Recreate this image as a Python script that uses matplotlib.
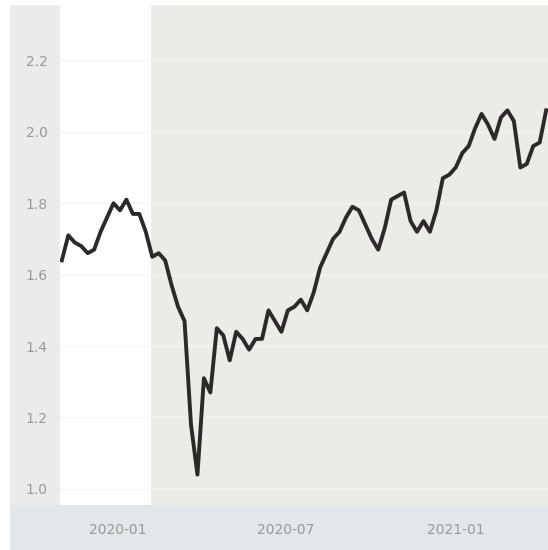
import numpy as np
import pandas as pd
import matplotlib
matplotlib.use("Agg")
import matplotlib.pyplot as plt
import matplotlib.dates as mdates
from matplotlib.patches import Rectangle

# weekly series
start_date = "2019-11-01"
n_weeks = 76
values = [
    1.64, 1.71, 1.69, 1.68, 1.66, 1.67, 1.72, 1.76, 1.80, 1.78,
    1.81, 1.77, 1.77, 1.72, 1.65, 1.66, 1.64, 1.57, 1.51, 1.47,
    1.18, 1.04, 1.31, 1.27, 1.45, 1.43, 1.36, 1.44, 1.42, 1.39,
    1.42, 1.42, 1.50, 1.47, 1.44, 1.50, 1.51, 1.53, 1.50, 1.55,
    1.62, 1.66, 1.70, 1.72, 1.76, 1.79, 1.78, 1.74, 1.70, 1.67,
    1.73, 1.81, 1.82, 1.83, 1.75, 1.72, 1.75, 1.72, 1.78, 1.87,
    1.88, 1.90, 1.94, 1.96, 2.01, 2.05, 2.02, 1.98, 2.04, 2.06,
    2.03, 1.90, 1.91, 1.96, 1.97, 2.06,
]
band_end = "2020-02-05"
y_ticks = [1.0, 1.2, 1.4, 1.6, 1.8, 2.0, 2.2]

dates = pd.date_range(start_date, periods=n_weeks, freq="7D")

W, H = 548, 550
fig = plt.figure(figsize=(W / 100, H / 100), dpi=100, facecolor="white")

# grey panel behind everything, bluish strip under the axis
fig.patches.append(Rectangle((10 / W, 0), 1 - 10 / W, 1 - 5 / H, transform=fig.transFigure,
                             facecolor="#ebebea", edgecolor="none", zorder=-2))
fig.patches.append(Rectangle((10 / W, 0), 1 - 10 / W, 45 / H, transform=fig.transFigure,
                             facecolor="#e4e7ea", edgecolor="none", zorder=-1))

ax = fig.add_axes([60 / W, 45 / H, 488 / W, 500 / H])
ax.set_facecolor("#ecebe8")

ax.axvspan(pd.Timestamp("2019-10-25"), pd.Timestamp(band_end), color="white", zorder=0)
for yv in y_ticks:
    ax.axhline(yv, color="#f4f4f2", lw=1.0, zorder=0.5)

ax.plot(dates, values, color="#2d2929", lw=2.8, zorder=3)

ax.set_xlim(pd.Timestamp("2019-10-30"), pd.Timestamp("2021-04-11"))
ax.set_ylim(0.955, 2.355)
ax.set_yticks(y_ticks)
ax.set_yticklabels([f"{v:.1f}" for v in y_ticks])
ax.xaxis.set_major_locator(mdates.MonthLocator(bymonth=[1, 7]))
ax.xaxis.set_major_formatter(mdates.DateFormatter("%Y-%m"))

ax.tick_params(length=0, labelsize=10, colors="#999999", pad=9)
ax.tick_params(axis="x", pad=13)
for s in ax.spines.values():
    s.set_visible(False)

fig.savefig("out.png", dpi=100, facecolor=fig.get_facecolor())
